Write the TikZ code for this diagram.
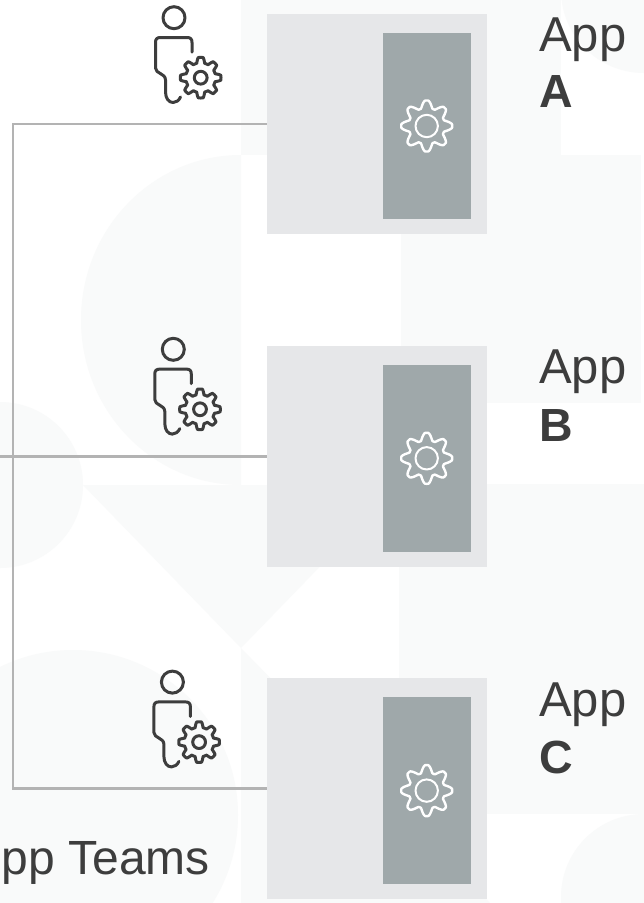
\documentclass[tikz,border=0pt]{standalone}
\usepackage{fontspec}
\setmainfont{Liberation Sans}
\definecolor{pale}{HTML}{F9FAFA}
\definecolor{cardgray}{HTML}{E6E7E9}
\definecolor{panelgray}{HTML}{9FA8AA}
\definecolor{linegray}{HTML}{B3B3B3}
\definecolor{inkdark}{HTML}{3D3D3D}
\tikzset{
  cardbox/.style={fill=cardgray,draw=none,inner sep=0pt,minimum width=220pt,minimum height=#1},
  panelbox/.style={fill=panelgray,draw=none,inner sep=0pt,minimum width=88pt,minimum height=186.5pt},
  conn/.style={draw=linegray,line width=2.6pt},
  applabel/.style={anchor=base west,inner sep=0pt,text=inkdark,font=\fontsize{49}{49}\selectfont},
  appletter/.style={anchor=base west,inner sep=0pt,text=inkdark,font=\fontsize{46.5}{46.5}\selectfont\bfseries},
  iconline/.style={draw=inkdark,line width=3pt,line cap=round,line join=round},
  gearwhite/.style={draw=white,line width=2.4pt,line join=round}
}
\newcommand{\gearcurve}[5]{% cx cy mean amp sharp
  plot[domain=0:358.5,samples=240,variable=\t]
    ({#1+(#3+#4*max(-1,min(1,#5*cos(8*\t))))*cos(\t)},{#2+(#3+#4*max(-1,min(1,#5*cos(8*\t))))*sin(\t)}) -- cycle}
\newcommand{\persongear}[2]{%
  \begin{scope}[shift={(#1,#2)}]
    \draw[iconline] (174,17.7) circle (11);
    \draw[iconline] (192,52) -- (192,42.5) .. controls (192,39) and (190.5,37.5) .. (187,37.5)
      -- (160.5,37.5) .. controls (157,37.5) and (155.5,39) .. (155.5,42.5)
      -- (155.5,68) .. controls (155.5,74) and (165.5,73) .. (165.5,80)
      -- (165.5,92) .. controls (165.5,98.5) and (169,102.5) .. (173,102.5)
      .. controls (176,102.5) and (179,100.5) .. (180.5,97);
    \draw[iconline] \gearcurve{200.7}{77.7}{17.6}{2.7}{1.8};
    \draw[iconline] (200.7,77.7) circle (6.4);
  \end{scope}}
\newcommand{\whitegear}[2]{%
  \draw[gearwhite] \gearcurve{#1}{#2}{21.8}{3.7}{1.15};
  \draw[gearwhite,line width=2pt] (#1,#2) circle (11.2);}
\begin{document}
\begin{tikzpicture}[x=1pt,y=-1pt]
  \useasboundingbox (0,0) rectangle (644,903);
  \fill[white] (0,0) rectangle (644,903);
  % faint background tiles
  \begin{scope}
    \clip (0,0) rectangle (644,903);
    \fill[pale] (241,0) rectangle (561,155);
    \fill[pale] (644,-10) circle (83);
    \fill[pale] (401,155) rectangle (641,403);
    \begin{scope}
      \clip (0,0) rectangle (241,903);
      \fill[pale] (241,320) ellipse [x radius=160,y radius=165];
    \end{scope}
    \fill[pale] (0,485) circle (83);
    \fill[pale] (83,485) -- (399,485) -- (241,648) -- cycle;
    \fill[pale] (399,484) rectangle (644,814);
    \fill[pale] (73,815) circle (165);
    \fill[pale] (241,648) -- (490,903) -- (241,903) -- cycle;
    \fill[pale] (644,897) circle (83);
  \end{scope}
  % cards
  \node[cardbox=220pt] (a) at (377,124) {};
  \node[cardbox=221pt] (b) at (377,456.5) {};
  \node[cardbox=221pt] (c) at (377,788.5) {};
  \node[panelbox] (pa) at (427,126) {};
  \node[panelbox] (pb) at (427,458.5) {};
  \node[panelbox] (pc) at (427,790.5) {};
  \whitegear{426.7}{126}
  \whitegear{426.7}{458.3}
  \whitegear{426.7}{790.6}
  % connectors
  \coordinate (trunkC) at (13,788.5);
  \coordinate (inB) at (0,456.5);
  \draw[conn] (a.west) -| (trunkC) -- (c.west);
  \draw[conn] (inB) -- (b.west);
  % person icons
  \persongear{0}{0}
  \persongear{-0.7}{331.6}
  \persongear{-1.6}{664.4}
  % labels
  \node[applabel] (appa) at (539,51) {App};
  \node[appletter] (la) at (539,107.3) {A};
  \node[applabel] (appb) at (539,383.3) {App};
  \node[appletter] (lb) at (539,441.3) {B};
  \node[applabel] (appc) at (539,716.7) {App};
  \node[appletter] (lc) at (539,773.5) {C};
  \node[anchor=base east,inner sep=0pt,text=inkdark,font=\fontsize{48}{48}\selectfont] (teams) at (210,874) {pp Teams};
\end{tikzpicture}
\end{document}
